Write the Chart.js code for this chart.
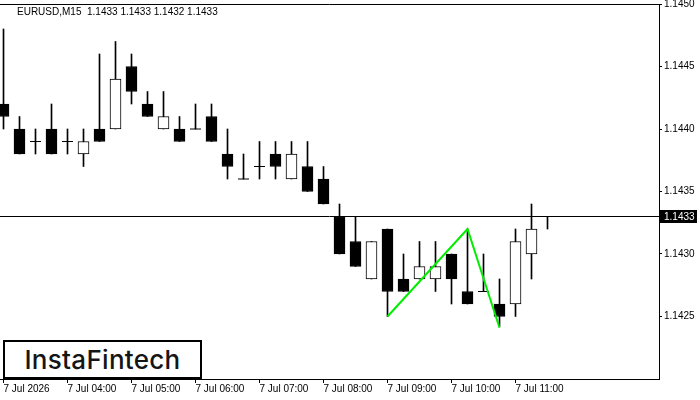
<!DOCTYPE html>
<html>
<head>
<meta charset="utf-8">
<script src="https://cdn.jsdelivr.net/npm/chart.js@4/dist/chart.umd.min.js"></script>
<style>
  html, body { margin: 0; padding: 0; background: #fff; }
  #wrap { position: relative; width: 700px; height: 400px; }
  #logo {
    position: absolute; left: 3px; top: 340px; width: 195px; height: 35px;
    border: 2px solid #000; background: #fff; color: #151515;
    font: 500 26px Inter, "Noto Sans", sans-serif; letter-spacing: 0.3px;
    display: flex; align-items: center; justify-content: center;
  }
</style>
</head>
<body>
<div id="wrap">
  <canvas id="chart" width="700" height="400"></canvas>
  <div id="logo">InstaFintech</div>
</div>
<script>
// EURUSD M15, 7 Jul 2026
const symbol = 'EURUSD,M15';
const dayLabel = '7 Jul';
const yearLabel = '7 Jul 2026';
const times = ['03:00','03:15','03:30','03:45','04:00','04:15','04:30','04:45',
               '05:00','05:15','05:30','05:45','06:00','06:15','06:30','06:45',
               '07:00','07:15','07:30','07:45','08:00','08:15','08:30','08:45',
               '09:00','09:15','09:30','09:45','10:00','10:15','10:30','10:45',
               '11:00','11:15','11:30'];
const openP  = [1.1442,1.1440,1.1439,1.1440,1.1439,1.1438,1.1440,1.1440,1.1445,1.1442,
                1.1440,1.1440,1.1440,1.1441,1.1438,1.1436,1.1437,1.1438,1.1436,1.1437,
                1.1436,1.1433,1.1431,1.1428,1.1432,1.1428,1.1428,1.1428,1.1430,1.1427,
                1.1427,1.1426,1.1426,1.1430,1.1433];
const highP  = [1.1448,1.1441,1.1440,1.1442,1.1440,1.1440,1.1446,1.1447,1.1446,1.1443,
                1.1443,1.1441,1.1442,1.1442,1.1440,1.1438,1.1439,1.1439,1.1439,1.1439,
                1.1437,1.1434,1.1433,1.1431,1.1432,1.1430,1.1431,1.1431,1.1430,1.1432,
                1.1430,1.1428,1.1432,1.1434,1.1433];
const lowP   = [1.1440,1.1438,1.1438,1.1438,1.1438,1.1437,1.1439,1.1440,1.1442,1.1441,
                1.1440,1.1439,1.1440,1.1439,1.1436,1.1436,1.1436,1.1436,1.1436,1.1435,
                1.1434,1.1430,1.1429,1.1428,1.1425,1.1427,1.1428,1.1427,1.1426,1.1426,
                1.1427,1.14242,1.1425,1.1428,1.1432];
const closeP = [1.1441,1.1438,1.1439,1.1438,1.1439,1.1439,1.1439,1.1444,1.1443,1.1441,
                1.1441,1.1439,1.1440,1.1439,1.1437,1.1436,1.1437,1.1437,1.1438,1.1435,
                1.1434,1.1430,1.1429,1.1431,1.1427,1.1427,1.1429,1.1429,1.1428,1.1426,
                1.1427,1.1425,1.1431,1.1432,1.1433];

// double bottom pattern (candle index, price)
const patternIdx = [24, 29, 31];
const patternPrice = [1.1425, 1.1432, 1.14241];

const yTicks = [1.1425, 1.1430, 1.1435, 1.1440, 1.1445, 1.1450];
const hourIdx = [0, 4, 8, 12, 16, 20, 24, 28, 32];

const FONT = { family: 'Liberation Sans, Arial, sans-serif', size: 10 };
const last = openP.length - 1;
const lastPrice = closeP[last];

const wicks = highP.map((h, i) => ({ x: i, y: [lowP[i], h] }));
const bodies = [];
const dojis = [];
openP.forEach((o, i) => {
  const c = closeP[i];
  if (o === c) dojis.push({ x: i, y: c });
  else bodies.push({ x: i, y: [Math.min(o, c), Math.max(o, c)], up: c > o });
});
const pattern = patternIdx.map((k, i) => ({ x: k, y: patternPrice[i] }));

const decor = {
  id: 'decor',
  beforeDatasetsDraw(chart) {
    const { ctx, chartArea: a, scales: { y } } = chart;
    const py = Math.round(y.getPixelForValue(lastPrice)) + 0.5;
    ctx.save();
    ctx.strokeStyle = '#000';
    ctx.lineWidth = 1;
    ctx.beginPath();
    ctx.moveTo(a.left, py); ctx.lineTo(a.right, py);
    // top frame
    ctx.moveTo(a.left, a.top + 0.5); ctx.lineTo(a.right, a.top + 0.5);
    ctx.stroke();
    ctx.restore();
  },
  afterDraw(chart) {
    const { ctx, chartArea: a, scales: { y } } = chart;
    const py = Math.round(y.getPixelForValue(lastPrice));
    ctx.save();
    ctx.fillStyle = '#000';
    ctx.fillRect(a.right + 1, py - 6, 37, 13);
    ctx.fillStyle = '#fff';
    ctx.font = `${FONT.size}px ${FONT.family}`;
    ctx.textBaseline = 'middle';
    ctx.fillText(lastPrice.toFixed(4), a.right + 5, py + 1);
    // header
    ctx.fillStyle = '#000';
    ctx.textBaseline = 'alphabetic';
    const ohlc = [openP[last], highP[last], lowP[last], closeP[last]].map(v => v.toFixed(4)).join(' ');
    ctx.fillText(symbol + '  ' + ohlc, 17, 15);
    ctx.restore();
  }
};

new Chart(document.getElementById('chart'), {
  type: 'bar',
  data: {
    datasets: [
      {
        type: 'line', data: pattern, borderColor: '#00ee00', borderWidth: 2,
        pointRadius: 0, fill: false, tension: 0, order: -1
      },
      {
        type: 'line', data: dojis, showLine: false, pointStyle: 'line',
        pointRadius: 5.5, borderColor: '#000', borderWidth: 1, order: 0
      },
      {
        data: bodies, grouped: false, barThickness: 11, borderWidth: 1,
        borderSkipped: false, borderColor: '#000',
        backgroundColor: c => (c.raw && c.raw.up ? '#fff' : '#000'), order: 1
      },
      {
        data: wicks, grouped: false, barThickness: 1, borderWidth: 0,
        backgroundColor: '#000', order: 2
      }
    ]
  },
  options: {
    responsive: false,
    animation: false,
    layout: { autoPadding: false, padding: { top: 4, left: 0, right: 0, bottom: 0 } },
    plugins: { legend: { display: false }, tooltip: { enabled: false } },
    scales: {
      x: {
        type: 'linear', min: -0.21875, max: 40.96875, offset: false,
        afterBuildTicks: s => { s.ticks = hourIdx.map(v => ({ value: v })); },
        afterFit: s => { s.height = 21; s.paddingLeft = 0; s.paddingRight = 0; },
        ticks: {
          autoSkip: false, maxRotation: 0, align: 'start', padding: 0, color: '#000', font: FONT,
          callback: v => (v === 0 ? yearLabel : dayLabel + ' ' + times[v])
        },
        grid: { offset: false, drawOnChartArea: false, tickLength: 4, color: '#000' },
        border: { display: true, color: '#000', width: 1 }
      },
      y: {
        position: 'right', min: 1.1420, max: 1.1450,
        afterBuildTicks: s => { s.ticks = yTicks.map(v => ({ value: v })); },
        afterFit: s => { s.width = 41; s.paddingTop = 0; s.paddingBottom = 0; },
        ticks: { color: '#000', font: FONT, padding: 2, callback: v => v.toFixed(4) },
        grid: { drawOnChartArea: false, tickLength: 3, color: '#000' },
        border: { display: true, color: '#000', width: 1 }
      }
    }
  },
  plugins: [decor]
});
</script>
</body>
</html>
